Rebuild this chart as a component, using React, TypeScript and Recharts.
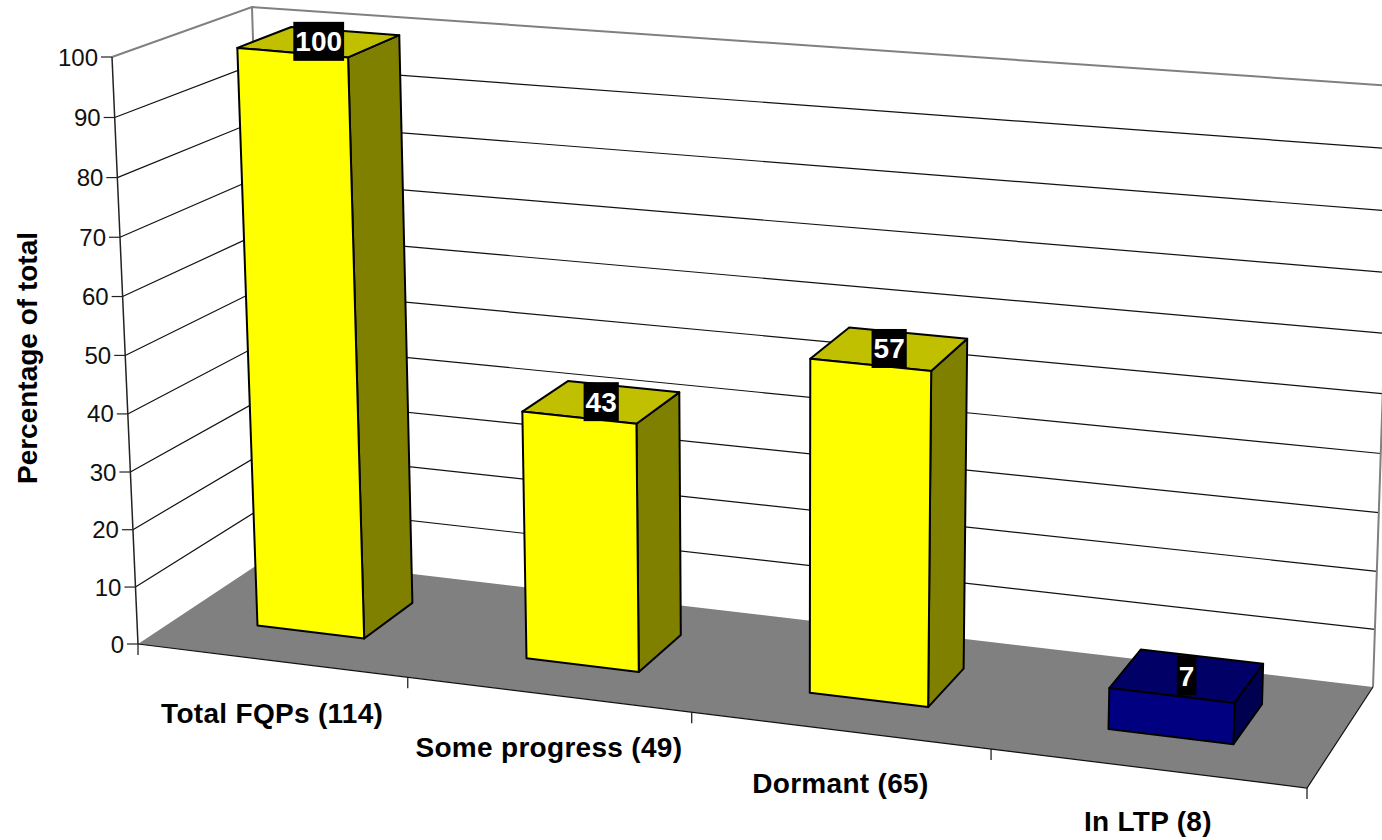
import { Bar, BarChart, CartesianGrid, Customized, LabelList, XAxis, YAxis } from "recharts";

const categories = ["Total FQPs (114)", "Some progress (49)", "Dormant (65)", "In LTP (8)"];
const percentages = [100, 43, 57, 7];
const valueTicks = [0, 10, 20, 30, 40, 50, 60, 70, 80, 90, 100];

const chartData = categories.map((name, i) => ({ name, value: percentages[i] }));

const FONT = '"Liberation Sans", Arial, sans-serif';
const GREY = "#808080";

const yellowBar = { front: "#ffff00", top: "#c0c000", side: "#808000" };
const blueBar = { front: "#000080", top: "#000066", side: "#000050" };
const barColors = [yellowBar, yellowBar, yellowBar, blueBar];

// flat plot area that recharts scales into, everything is then projected onto the 3d box
const plot = { left: 100, top: 100, width: 1182, height: 640 };

// corners of the box on screen: P[x][y][z], z=0 front, z=1 back
const P = {
  p000: [138, 644],
  p100: [1307, 788],
  p010: [112, 57],
  p110: [1328, 170],
  p001: [269, 557],
  p101: [1373, 687],
  p011: [252, 7],
  p111: [1393, 86],
};

const BAR_FRONT = 0.32;
const BAR_BACK = 0.72;

const mix = (a: number[], b: number[], t: number) => [a[0] + (b[0] - a[0]) * t, a[1] + (b[1] - a[1]) * t];

const project = (u: number, v: number, w: number) => {
  // slight foreshortening along x and y, the back wall is squeezed a bit more
  const uu = (u * 0.9) / (1 - 0.1 * u);
  const k = 0.033 + 0.014 * w;
  const vv = (v * (1 - k)) / (1 - k * v);
  const front = mix(mix(P.p000, P.p100, uu), mix(P.p010, P.p110, uu), vv);
  const back = mix(mix(P.p001, P.p101, uu), mix(P.p011, P.p111, uu), vv);
  return mix(front, back, w);
};

const toU = (x: number) => (x - plot.left) / plot.width;
const toV = (y: number) => (plot.top + plot.height - y) / plot.height;
const pts = (list: number[][]) => list.map((p) => `${p[0]},${p[1]}`).join(" ");
const face = (list: number[][]) => `M${list.map((p) => `${p[0]} ${p[1]}`).join("L")}Z`;

const Walls = () => (
  <g>
    <polygon points={pts([project(0, 0, 0), project(1, 0, 0), project(1, 0, 1), project(0, 0, 1)])} fill={GREY} />
    <polyline points={pts([project(0, 0, 1), project(0, 1, 1)])} stroke={GREY} strokeWidth={2} fill="none" />
    <polyline points={pts([project(1, 0, 1), project(1, 1, 1)])} stroke={GREY} strokeWidth={2} fill="none" />
    <polyline points={pts([project(0, 0, 0), project(0, 1, 0)])} stroke="#222" strokeWidth={1.5} fill="none" />
    <polyline points={pts([project(0, 0, 0), project(1, 0, 0), project(1, 0, 1)])} stroke="#111" strokeWidth={1.2} fill="none" />
  </g>
);

const gridLine = (props: any) => {
  const v = toV(props.y1);
  if (v < 0.001) return <g key={props.key ?? "base"} />;
  const isTop = v > 0.999;
  return (
    <polyline
      key={props.key ?? v}
      points={pts([project(0, v, 0), project(0, v, 1), project(1, v, 1)])}
      fill="none"
      stroke={isTop ? GREY : "#111"}
      strokeWidth={isTop ? 2 : 1.2}
    />
  );
};

const BoxBar = (props: any) => {
  const { x, y, width, height, index } = props;
  const u0 = toU(x);
  const u1 = toU(x + width);
  const top = toV(y);
  const bottom = toV(y + height);
  const colors = barColors[index];
  const edge = { stroke: "#000", strokeWidth: 2, strokeLinejoin: "round" as const };
  return (
    <g>
      <path
        d={face([project(u1, bottom, BAR_FRONT), project(u1, bottom, BAR_BACK), project(u1, top, BAR_BACK), project(u1, top, BAR_FRONT)])}
        fill={colors.side}
        {...edge}
      />
      <path
        d={face([project(u0, top, BAR_FRONT), project(u1, top, BAR_FRONT), project(u1, top, BAR_BACK), project(u0, top, BAR_BACK)])}
        fill={colors.top}
        {...edge}
      />
      <path
        d={face([project(u0, bottom, BAR_FRONT), project(u1, bottom, BAR_FRONT), project(u1, top, BAR_FRONT), project(u0, top, BAR_FRONT)])}
        fill={colors.front}
        {...edge}
      />
    </g>
  );
};

const BarValue = (props: any) => {
  const { x, y, width, value } = props;
  const [cx, cy] = project(toU(x + width / 2), toV(y), (BAR_FRONT + BAR_BACK) / 2);
  const boxWidth = String(value).length * 15.6 + 4;
  return (
    <g>
      <rect x={cx - boxWidth / 2} y={cy - 20} width={boxWidth} height={39} fill="#000" />
      <text x={cx} y={cy + 9.5} textAnchor="middle" fill="#fff" fontFamily={FONT} fontWeight="bold" fontSize={28}>
        {value}
      </text>
    </g>
  );
};

const ValueTick = (props: any) => {
  const { y, payload } = props;
  const [px, py] = project(0, toV(y), 0);
  return (
    <g>
      <line x1={px - 11} y1={py} x2={px} y2={py} stroke="#222" strokeWidth={1.2} />
      <text x={px - 14} y={py + 8.5} textAnchor="end" fill="#111" fontFamily={FONT} fontSize={24}>
        {payload.value}
      </text>
    </g>
  );
};

const CategoryTick = (props: any) => {
  const { x, payload, index } = props;
  const band = plot.width / categories.length;
  const [lx, ly] = project(toU(x), 0, 0);
  const [rx, ry] = project(toU(x + band / 2), 0, 0);
  const [sx, sy] = project(toU(x - band / 2), 0, 0);
  return (
    <g>
      {index === 0 && <line x1={sx} y1={sy} x2={sx} y2={sy + 11} stroke="#111" strokeWidth={1.2} />}
      <line x1={rx} y1={ry} x2={rx} y2={ry + 11} stroke="#111" strokeWidth={1.2} />
      <text x={lx + 1} y={ly + 63} textAnchor="middle" fill="#000" fontFamily={FONT} fontWeight="bold" fontSize={28} letterSpacing={0.3}>
        {payload.value}
      </text>
    </g>
  );
};

export default function App() {
  return (
    <div style={{ position: "absolute", left: 0, top: 0, width: 1382, height: 840, background: "#fff", overflow: "hidden" }}>
      <BarChart
        width={1382}
        height={840}
        data={chartData}
        barCategoryGap="29.8%"
        margin={{ top: plot.top, left: plot.left - 1, right: 1382 - plot.left - plot.width, bottom: 840 - plot.top - plot.height - 1 }}
      >
        <Customized component={Walls} />
        <CartesianGrid vertical={false} horizontal={gridLine} />
        <XAxis dataKey="name" height={1} interval={0} axisLine={false} tickLine={false} tick={CategoryTick} />
        <YAxis width={1} domain={[0, 100]} ticks={valueTicks} interval={0} axisLine={false} tickLine={false} tick={ValueTick} />
        <Bar dataKey="value" isAnimationActive={false} shape={BoxBar}>
          <LabelList dataKey="value" content={BarValue} />
        </Bar>
        <text
          x={27}
          y={358}
          transform="rotate(-90 27 358)"
          textAnchor="middle"
          dominantBaseline="central"
          fontFamily={FONT}
          fontWeight="bold"
          fontSize={28}
          fill="#000"
        >
          Percentage of total
        </text>
      </BarChart>
    </div>
  );
}
